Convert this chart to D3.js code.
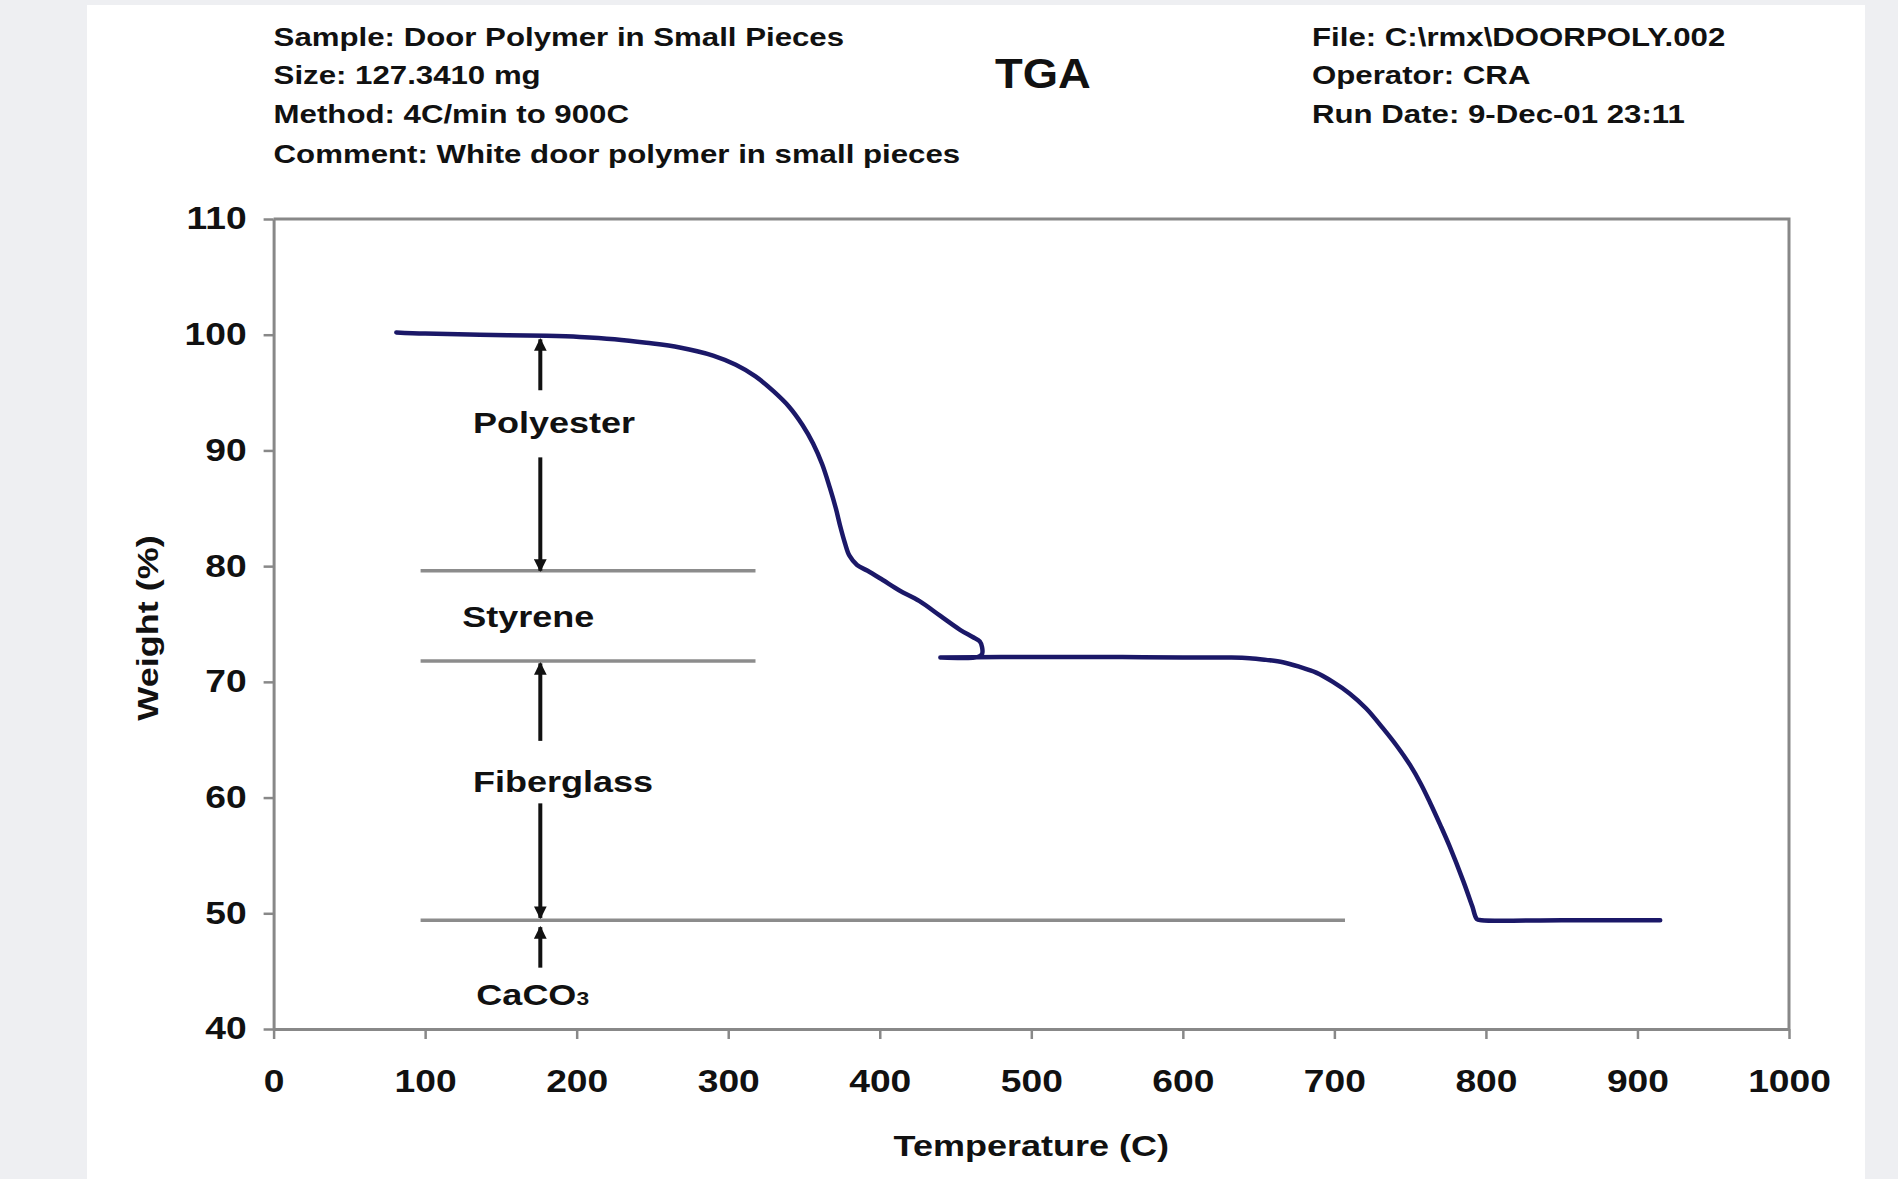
<!DOCTYPE html>
<html>
<head>
<meta charset="utf-8">
<script src="https://cdn.jsdelivr.net/npm/d3@7"></script>
<style>
  body { margin: 0; background: #eeeff2; }
  svg { display: block; }
  text { font-family: "Liberation Sans", Arial, sans-serif; font-weight: bold; fill: #111; }
</style>
</head>
<body>
<script>
  const TITLE = 'TGA';
  const HEADER_LEFT = [
    'Sample: Door Polymer in Small Pieces',
    'Size: 127.3410 mg',
    'Method: 4C/min to 900C',
    'Comment: White door polymer in small pieces'
  ];
  const HEADER_RIGHT = [
    'File: C:\\rmx\\DOORPOLY.002',
    'Operator: CRA',
    'Run Date: 9-Dec-01 23:11'
  ];
  const X_LABEL = 'Temperature (C)';
  const Y_LABEL = 'Weight (%)';
  const X_TICKS = [0, 100, 200, 300, 400, 500, 600, 700, 800, 900, 1000];
  const Y_TICKS = [40, 50, 60, 70, 80, 90, 100, 110];

  // TGA trace (the sample temperature runs back a bit near 466 C)
  const TEMP = [81, 100, 136, 180, 202, 225, 246, 268, 290, 305, 318, 330, 340, 349, 356,
    362, 367, 371, 374, 377, 380, 385, 392, 402, 413, 426, 440, 453, 461, 466, 467.5, 467.5,
    465, 440, 480, 520, 560, 600, 630, 644, 655, 666, 677, 688, 699, 710, 721, 732,
    741, 750, 757, 763, 770, 776, 785, 791, 794, 797, 850, 915];
  const WEIGHT = [100.2, 100.1, 100.0, 99.9, 99.8, 99.6, 99.3, 98.9, 98.2, 97.4, 96.4, 95.1, 93.8, 92.2, 90.6,
    88.8, 86.8, 85.0, 83.4, 82.0, 80.9, 80.1, 79.6, 78.8, 77.9, 77.0, 75.7, 74.5, 73.9, 73.5, 73.0, 72.4,
    72.15, 72.1, 72.15, 72.15, 72.15, 72.1, 72.1, 72.05, 71.9, 71.7, 71.3, 70.8, 70.0, 69.0, 67.7, 66.0,
    64.5, 62.8, 61.2, 59.6, 57.6, 55.8, 52.8, 50.6, 49.5, 49.4, 49.4, 49.4];

  // layer boundaries (gray lines)
  const BOUNDARY_W = [79.6, 71.8, 49.4];
  const BOUNDARY_T0 = [97, 97, 97];
  const BOUNDARY_T1 = [318, 318, 707];

  // layer labels
  const LAYER_NAMES = ['Polyester', 'Styrene', 'Fiberglass', 'CaCO'];
  const LAYER_SUB = ['', '', '', '3'];
  const LAYER_T = [185, 168, 191, 171];
  const LAYER_W = [92.5, 75.7, 61.4, 43.0];

  // arrow segments, head at the "to" end
  const ARROW_T = 176;
  const ARROW_FROM = [95.2, 89.4, 64.9, 59.5, 45.3];
  const ARROW_TO = [99.6, 79.6, 71.6, 49.6, 48.8];

  const WIDTH = 1898, HEIGHT = 1179;
  const STRETCH = 1.2; // the source picture is stretched sideways

  const svg = d3.select('body').append('svg')
    .attr('width', WIDTH)
    .attr('height', HEIGHT);

  // white sheet
  svg.append('rect')
    .attr('x', 87).attr('y', 5)
    .attr('width', 1778).attr('height', HEIGHT - 5)
    .attr('fill', '#ffffff');

  const x = d3.scaleLinear().domain([0, 1000]).range([273.6, 1789]);
  const y = d3.scaleLinear().domain([40, 110]).range([1029, 219]);

  function stretch(sel, k) {
    sel.each(function() {
      const w = this.getComputedTextLength();
      d3.select(this)
        .attr('textLength', w * k)
        .attr('lengthAdjust', 'spacingAndGlyphs');
    });
  }

  /*
    Header
  */
  const HEADER_BASE = [46, 84, 123, 163];
  svg.selectAll('.hleft')
    .data(HEADER_LEFT)
    .join('text')
      .attr('class', 'hleft')
      .attr('x', x(0))
      .attr('y', (d, i) => HEADER_BASE[i])
      .style('font-size', '26px')
      .text(d => d)
      .call(stretch, STRETCH);

  svg.selectAll('.hright')
    .data(HEADER_RIGHT)
    .join('text')
      .attr('class', 'hright')
      .attr('x', 1312)
      .attr('y', (d, i) => HEADER_BASE[i])
      .style('font-size', '26px')
      .text(d => d)
      .call(stretch, STRETCH);

  svg.append('text')
    .attr('x', 1043)
    .attr('y', 88)
    .attr('text-anchor', 'middle')
    .style('font-size', '42px')
    .text(TITLE)
    .call(stretch, 1.08);

  /*
    Axes and frame
  */
  const AXIS_COLOR = '#888888';

  const yAxis = svg.append('g')
    .attr('transform', `translate(${x(0)},0)`)
    .call(d3.axisLeft(y).tickValues(Y_TICKS).tickSize(10).tickPadding(17).tickSizeOuter(0));

  const xAxis = svg.append('g')
    .attr('transform', `translate(0,${y(40)})`)
    .call(d3.axisBottom(x).tickValues(X_TICKS).tickFormat(d3.format('d'))
      .tickSize(10).tickPadding(31).tickSizeOuter(0));

  [yAxis, xAxis].forEach(g => {
    g.select('.domain').attr('stroke', AXIS_COLOR).attr('stroke-width', 3);
    g.selectAll('.tick line').attr('stroke', AXIS_COLOR).attr('stroke-width', 2.5);
    g.selectAll('.tick text')
      .attr('fill', '#111')
      .style('font-family', '"Liberation Sans", Arial, sans-serif')
      .style('font-weight', 'bold')
      .style('font-size', '31px')
      .call(stretch, STRETCH);
  });
  xAxis.selectAll('.tick text').attr('dy', '0.71em');

  // top and right border of the plot box
  svg.append('path')
    .attr('d', `M${x(0)},${y(110)}H${x(1000)}V${y(40)}`)
    .attr('fill', 'none')
    .attr('stroke', AXIS_COLOR)
    .attr('stroke-width', 3);

  // axis titles
  svg.append('text')
    .attr('transform', `translate(158,${(y(40) + y(110)) / 2 + 4}) rotate(-90)`)
    .attr('text-anchor', 'middle')
    .style('font-size', '30px')
    .text(Y_LABEL)
    .call(stretch, STRETCH);

  svg.append('text')
    .attr('x', (x(0) + x(1000)) / 2)
    .attr('y', 1156)
    .attr('text-anchor', 'middle')
    .style('font-size', '30px')
    .text(X_LABEL)
    .call(stretch, STRETCH);

  /*
    Layer boundaries, arrows and labels
  */
  svg.selectAll('.boundary')
    .data(BOUNDARY_W)
    .join('line')
      .attr('class', 'boundary')
      .attr('x1', (d, i) => x(BOUNDARY_T0[i]))
      .attr('x2', (d, i) => x(BOUNDARY_T1[i]))
      .attr('y1', d => y(d))
      .attr('y2', d => y(d))
      .attr('stroke', '#8c8c8c')
      .attr('stroke-width', 3.5);

  svg.append('defs').append('marker')
    .attr('id', 'head')
    .attr('viewBox', '0 0 10 10')
    .attr('refX', 9).attr('refY', 5)
    .attr('markerWidth', 3.2).attr('markerHeight', 3.2)
    .attr('markerUnits', 'strokeWidth')
    .attr('orient', 'auto')
    .append('path')
      .attr('d', 'M0,0L10,5L0,10Z')
      .attr('fill', '#111');

  svg.selectAll('.arrow')
    .data(ARROW_FROM)
    .join('line')
      .attr('class', 'arrow')
      .attr('x1', x(ARROW_T))
      .attr('x2', x(ARROW_T))
      .attr('y1', d => y(d))
      .attr('y2', (d, i) => y(ARROW_TO[i]))
      .attr('stroke', '#111')
      .attr('stroke-width', 4)
      .attr('marker-end', 'url(#head)');

  const labels = svg.selectAll('.layer')
    .data(LAYER_NAMES)
    .join('text')
      .attr('class', 'layer')
      .attr('x', (d, i) => x(LAYER_T[i]))
      .attr('y', (d, i) => y(LAYER_W[i]) + 11)
      .attr('text-anchor', 'middle')
      .style('font-size', '30px');
  labels.append('tspan').text(d => d);
  labels.append('tspan')
    .style('font-size', '19px')
    .text((d, i) => LAYER_SUB[i]);
  labels.call(stretch, STRETCH);

  /*
    TGA curve
  */
  const points = TEMP.map((t, i) => [t, WEIGHT[i]]);
  svg.append('path')
    .datum(points)
    .attr('fill', 'none')
    .attr('stroke', '#1b1868')
    .attr('stroke-width', 4.5)
    .attr('stroke-linejoin', 'round')
    .attr('stroke-linecap', 'round')
    .attr('d', d3.line()
      .curve(d3.curveCatmullRom.alpha(0.5))
      .x(d => x(d[0]))
      .y(d => y(d[1])));
</script>
</body>
</html>
